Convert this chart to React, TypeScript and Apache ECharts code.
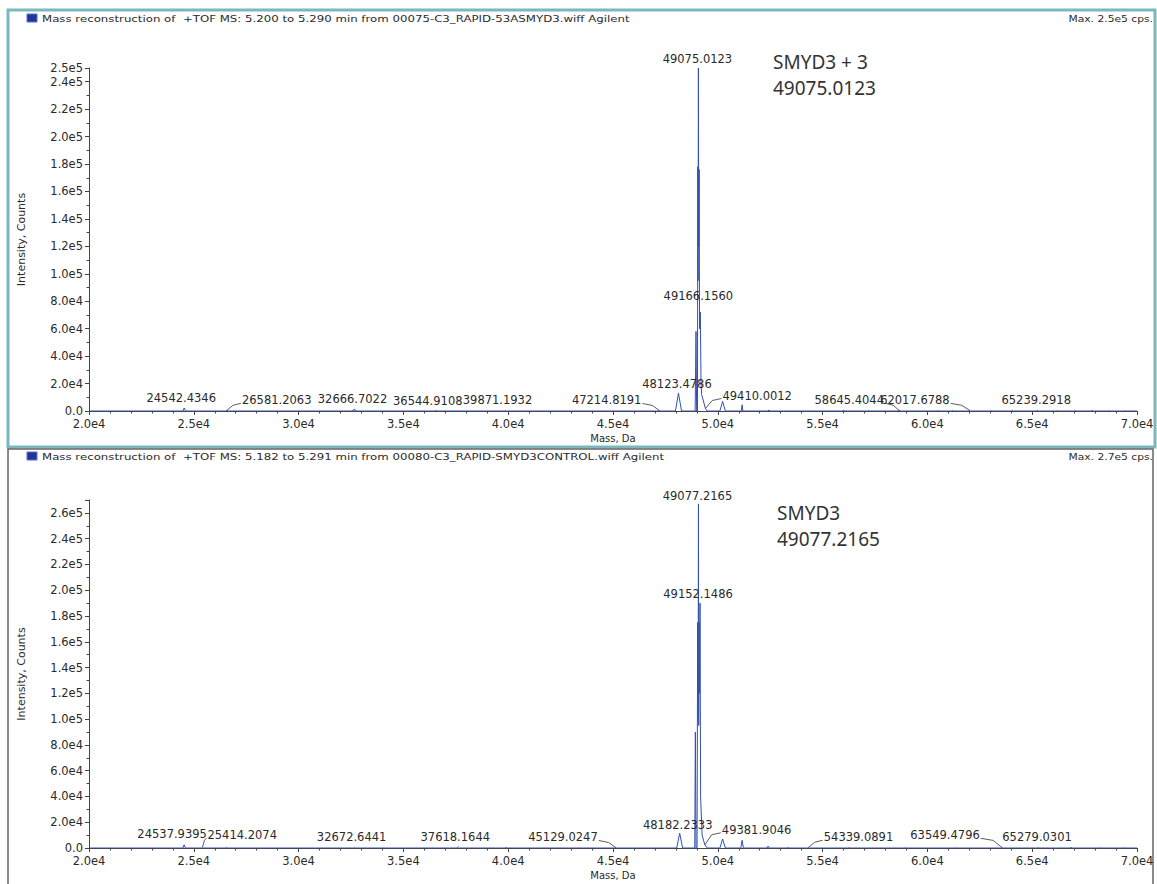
import React, { useEffect, useRef } from "react";
import * as echarts from "echarts";

// ---------- texts ----------
const topTitle = "Mass reconstruction of  +TOF MS: 5.200 to 5.290 min from 00075-C3_RAPID-53ASMYD3.wiff Agilent";
const bottomTitle = "Mass reconstruction of  +TOF MS: 5.182 to 5.291 min from 00080-C3_RAPID-SMYD3CONTROL.wiff Agilent";
const topMaxText = "Max. 2.5e5 cps.";
const bottomMaxText = "Max. 2.7e5 cps.";
const topNote = ["SMYD3 + 3", "49075.0123"];
const bottomNote = ["SMYD3", "49077.2165"];
const xName = "Mass, Da";
const yName = "Intensity, Counts";

// ---------- axes ----------
const xMin = 20000;
const xMax = 70000;
const xInterval = 5000;
const yInterval = 20000;
const topYMax = 250000;
const bottomYMax = 270000;

// ---------- top spectrum (SMYD3 + 3) ----------
const topMass = [
  20000, 24480, 24542, 24600, 26520, 26581, 26640, 32560, 32610, 32640, 32666, 32720,
  36500, 36545, 36600, 39820, 39871, 39920, 47160, 47214, 47270, 47980, 48123, 48270,
  48920, 48960, 48990, 49030, 49045, 49060, 49075, 49090, 49110, 49130, 49166, 49200,
  49230, 49410, 49500, 50100, 50230, 50360, 51120, 51160, 51200, 52400, 52450, 52500,
  55900, 56000, 56100, 57150, 57200, 57250, 58600, 58645, 58700, 60450, 60500, 60550,
  61150, 61200, 61250, 62000, 62017, 62060, 63000, 63050, 63100, 64000, 64050, 64100,
  65200, 65239, 65280, 66150, 66200, 66250, 67000, 67050, 67100, 67800, 67850, 67900,
  68600, 68650, 68700, 69400, 69450, 69500, 70000,
];
const topIntensity = [
  0, 0, 2200, 0, 0, 500, 0, 0, 900, 300, 1500, 0,
  0, 400, 0, 0, 500, 0, 0, 400, 0, 0, 13000, 0,
  0, 58000, 0, 0, 178000, 95000, 250000, 120000, 176000, 60000, 72000, 20000,
  12000, 1800, 0, 0, 7000, 0, 0, 4500, 0, 0, 800, 0,
  0, 300, 0, 0, 400, 0, 0, 600, 0, 0, 300, 0,
  0, 400, 0, 0, 500, 0, 0, 300, 0, 0, 500, 0,
  0, 600, 0, 0, 400, 0, 0, 300, 0, 0, 400, 0,
  0, 300, 0, 0, 300, 0, 0,
];

// ---------- bottom spectrum (SMYD3 control) ----------
const bottomMass = [
  20000, 24480, 24538, 24600, 25360, 25414, 25470, 26500, 26560, 26620, 32620, 32672,
  32720, 37560, 37618, 37680, 39850, 39900, 39950, 45080, 45129, 45180, 48040, 48182,
  48320, 48900, 48930, 48960, 49010, 49040, 49060, 49077, 49090, 49110, 49130, 49152,
  49180, 49250, 49381, 49500, 50100, 50230, 50360, 51100, 51160, 51220, 52350, 52400,
  52450, 53300, 53350, 53400, 54300, 54339, 54380, 56200, 56250, 56300, 58900, 58950,
  59000, 61300, 61350, 61400, 63500, 63549, 63600, 65240, 65279, 65320, 66800, 66850,
  66900, 68200, 68250, 68300, 69300, 69350, 69400, 70000,
];
const bottomIntensity = [
  0, 0, 2500, 0, 0, 600, 0, 0, 500, 0, 0, 500,
  0, 0, 900, 0, 0, 400, 0, 0, 400, 0, 0, 11500,
  0, 0, 90000, 0, 0, 175000, 100000, 267000, 95000, 175000, 120000, 190000,
  40000, 10000, 2500, 0, 0, 7000, 0, 0, 6000, 0, 0, 1500,
  0, 0, 300, 0, 0, 600, 0, 0, 300, 0, 0, 400,
  0, 0, 300, 0, 0, 500, 0, 0, 500, 0, 0, 400,
  0, 0, 300, 0, 0, 300, 0, 0,
];

// ---------- peak annotations ----------
const topPeakLabels = [
  "24542.4346", "26581.2063", "32666.7022", "36544.9108", "39871.1932", "47214.8191",
  "48123.4786", "49075.0123", "49166.1560", "49410.0012", "58645.4044", "62017.6788",
  "65239.2918",
];
const topPeakHeights = [2200, 500, 1500, 400, 500, 400, 13000, 250000, 72000, 1800, 600, 500, 600];

const bottomPeakLabels = [
  "24537.9395", "25414.2074", "32672.6441", "37618.1644", "45129.0247", "48182.2333",
  "49077.2165", "49152.1486", "49381.9046", "54339.0891", "63549.4796", "65279.0301",
];
const bottomPeakHeights = [2500, 600, 500, 900, 400, 11500, 267000, 190000, 2500, 600, 500, 500];

// label placement relative to the peak (px): dx, dy, mode (C centre, R label right of peak, L label left of peak)
const topLabelLayout: [number, number, string][] = [
  [-3, -10, "C"], [15, -10, "R"], [-2, -10, "C"], [-8, -9, "C"], [-8, -10, "C"], [-18, -10, "L"],
  [-1.5, -9, "C"], [-1, -9, "C"], [-2, -16, "C"], [17, -13, "R"], [-15, -10, "L"], [-20, -10, "L"],
  [-1, -10, "C"],
];
const bottomLabelLayout: [number, number, string][] = [
  [-12, -11, "C"], [5, -12, "R"], [-3, -10, "C"], [-3, -10, "C"], [-18, -10, "L"], [-2, -8, "C"],
  [-1, -8, "C"], [-2, -9, "C"], [17, -15, "R"], [15, -10, "R"], [-22, -12, "L"], [-1, -10, "C"],
];

const FONT = '"DejaVu Sans", sans-serif';
const TXT = "#2a2a2a";
const LINE = "#3350b0";
const AXIS = "#444";

const fmt = (v: number) => (v === 0 ? "0.0" : v.toExponential(1).replace("e+", "e"));

function annotationSeries(
  idx: number,
  labels: string[],
  heights: number[],
  layout: [number, number, string][]
) {
  return {
    type: "custom",
    xAxisIndex: idx,
    yAxisIndex: idx,
    silent: true,
    clip: false,
    z: 5,
    data: labels.map((l, i) => [parseFloat(l), heights[i]]),
    encode: { x: 0, y: 1 },
    renderItem: (params: any, api: any) => {
      const i = params.dataIndex;
      const p = api.coord([api.value(0), api.value(1)]);
      const [dx, dy, mode] = layout[i];
      const tx = p[0] + dx;
      const ty = p[1] + dy;
      const children: any[] = [
        {
          type: "text",
          x: tx,
          y: ty,
          style: {
            text: labels[i],
            fontSize: 11.5,
            fontFamily: FONT,
            fill: TXT,
            align: mode === "C" ? "center" : mode === "R" ? "left" : "right",
            verticalAlign: "middle",
          },
        },
      ];
      if (mode === "R") {
        children.push({
          type: "polyline",
          shape: { points: [p, [p[0] + dx * 0.4, ty + 5], [tx - 1, ty + 3]] },
          style: { stroke: "#333", lineWidth: 0.8, fill: "none" },
        });
      } else if (mode === "L") {
        children.push({
          type: "polyline",
          shape: { points: [[tx + 1, ty + 3], [p[0] + dx * 0.4, ty + 5], p] },
          style: { stroke: "#333", lineWidth: 0.8, fill: "none" },
        });
      }
      return { type: "group", children };
    },
  };
}

function xAxis(idx: number) {
  return {
    type: "value",
    gridIndex: idx,
    min: xMin,
    max: xMax,
    interval: xInterval,
    axisLine: { show: true, onZero: false, lineStyle: { color: AXIS, width: 1 } },
    axisTick: { show: true, length: 4, lineStyle: { color: AXIS } },
    minorTick: { show: true, splitNumber: 5, length: 2.5, lineStyle: { color: AXIS } },
    splitLine: { show: false },
    minorSplitLine: { show: false },
    axisLabel: { formatter: fmt, color: TXT, fontSize: 11.5, fontFamily: FONT, margin: 7 },
    name: xName,
    nameLocation: "middle",
    nameGap: 22,
    nameTextStyle: { color: TXT, fontSize: 10, fontFamily: FONT },
  };
}

function yAxis(idx: number, max: number, showMax: boolean) {
  return {
    type: "value",
    gridIndex: idx,
    min: 0,
    max,
    interval: yInterval,
    axisLine: { show: true, lineStyle: { color: AXIS, width: 1 } },
    axisTick: { show: true, length: 4, lineStyle: { color: AXIS } },
    minorTick: { show: true, splitNumber: 2, length: 2.5, lineStyle: { color: AXIS } },
    splitLine: { show: false },
    minorSplitLine: { show: false },
    axisLabel: {
      formatter: fmt,
      color: TXT,
      fontSize: 11.5,
      fontFamily: FONT,
      margin: 6,
      showMaxLabel: showMax,
    },
    name: yName,
    nameLocation: "middle",
    nameGap: 62,
    nameRotate: 90,
    nameTextStyle: { color: TXT, fontSize: 11, fontFamily: FONT },
  };
}

function header(y: number, title: string, maxText: string) {
  return [
    {
      type: "rect",
      shape: { x: 27, y: y - 5, width: 10, height: 8 },
      style: { fill: "#22349a", stroke: "#5a6fc8", lineWidth: 1 },
    },
    {
      type: "text",
      x: 42,
      y,
      scaleX: 1.24,
      style: { text: title, fontSize: 9.5, fontFamily: FONT, fill: TXT, verticalAlign: "middle" },
    },
    {
      type: "text",
      x: 1153,
      y,
      scaleX: 1.13,
      style: { text: maxText, fontSize: 9.5, fontFamily: FONT, fill: TXT, align: "right", verticalAlign: "middle" },
    },
  ];
}

function note(x: number, y: number, lines: string[]) {
  return lines.map((t, i) => ({
    type: "text",
    x,
    y: y + i * 26,
    style: { text: t, fontSize: 19, fontFamily: '"Noto Sans", sans-serif', fill: "#333", verticalAlign: "middle" },
  }));
}

export default function App() {
  const ref = useRef<HTMLDivElement>(null);
  useEffect(() => {
    if (!ref.current) return;
    const chart = echarts.init(ref.current, undefined, { renderer: "svg" });
    chart.setOption({
      animation: false,
      backgroundColor: "#ffffff",
      grid: [
        { left: 89, top: 68, width: 1048, height: 343, containLabel: false },
        { left: 89, top: 500, width: 1048, height: 348, containLabel: false },
      ],
      xAxis: [xAxis(0), xAxis(1)],
      yAxis: [yAxis(0, topYMax, true), yAxis(1, bottomYMax, false)],
      series: [
        {
          type: "line",
          xAxisIndex: 0,
          yAxisIndex: 0,
          data: topMass.map((m, i) => [m, topIntensity[i]]),
          showSymbol: false,
          silent: true,
          lineStyle: { width: 1, color: LINE },
          itemStyle: { color: LINE },
        },
        {
          type: "line",
          xAxisIndex: 1,
          yAxisIndex: 1,
          data: bottomMass.map((m, i) => [m, bottomIntensity[i]]),
          showSymbol: false,
          silent: true,
          lineStyle: { width: 1, color: LINE },
          itemStyle: { color: LINE },
        },
        annotationSeries(0, topPeakLabels, topPeakHeights, topLabelLayout),
        annotationSeries(1, bottomPeakLabels, bottomPeakHeights, bottomLabelLayout),
      ],
      graphic: [
        {
          type: "rect",
          shape: { x: 8, y: 10, width: 1147, height: 437 },
          style: { fill: "none", stroke: "#7bb8bd", lineWidth: 3 },
          z: 0,
        },
        {
          type: "rect",
          shape: { x: 8, y: 449, width: 1145, height: 445 },
          style: { fill: "none", stroke: "#666", lineWidth: 1.5 },
          z: 0,
        },
        ...header(19, topTitle, topMaxText),
        ...header(457, bottomTitle, bottomMaxText),
        ...note(773, 62, topNote),
        ...note(777, 513, bottomNote),
      ],
    });
    return () => chart.dispose();
  }, []);
  return (
    <div
      ref={ref}
      style={{ position: "fixed", left: 0, top: 0, width: 1157, height: 884, background: "#fff" }}
    />
  );
}
